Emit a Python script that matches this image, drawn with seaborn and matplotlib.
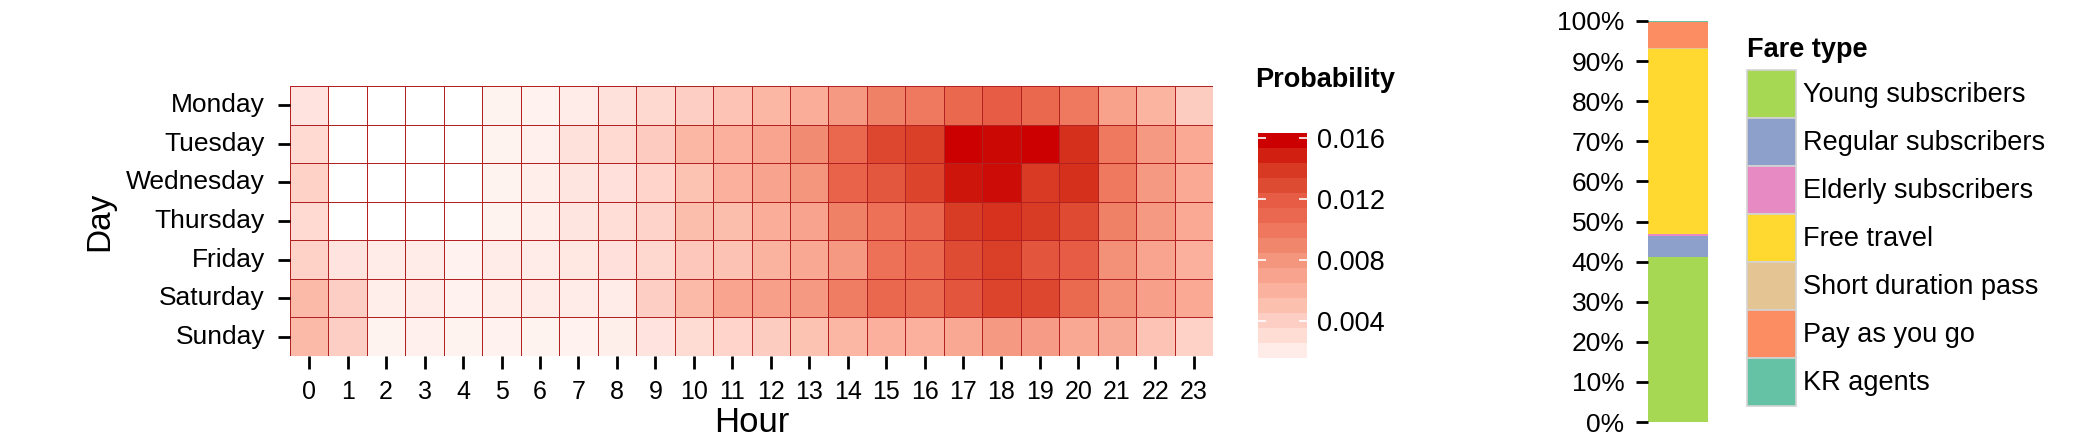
import numpy as np
import pandas as pd
import matplotlib
matplotlib.use("Agg")
import matplotlib.pyplot as plt
import seaborn as sns
from matplotlib.colors import LinearSegmentedColormap, Normalize
from matplotlib.cm import ScalarMappable
from matplotlib.patches import Patch

# ---------------- data ----------------
days = ["Monday", "Tuesday", "Wednesday", "Thursday", "Friday", "Saturday", "Sunday"]
hours = list(range(24))

monday    = [0.0022, 0.0006, 0.0006, 0.0006, 0.0006, 0.0011, 0.0012, 0.0017, 0.0024, 0.0030, 0.0037, 0.0045,
             0.0055, 0.0062, 0.0077, 0.0093, 0.0098, 0.0111, 0.0121, 0.0111, 0.0098, 0.0071, 0.0057, 0.0039]
tuesday   = [0.0029, 0.0006, 0.0006, 0.0006, 0.0006, 0.0011, 0.0013, 0.0024, 0.0029, 0.0040, 0.0055, 0.0060,
             0.0068, 0.0086, 0.0111, 0.0134, 0.0138, 0.0163, 0.0160, 0.0163, 0.0146, 0.0098, 0.0077, 0.0065]
wednesday = [0.0035, 0.0006, 0.0006, 0.0006, 0.0006, 0.0011, 0.0015, 0.0021, 0.0025, 0.0033, 0.0047, 0.0060,
             0.0069, 0.0079, 0.0116, 0.0124, 0.0136, 0.0156, 0.0159, 0.0141, 0.0146, 0.0098, 0.0077, 0.0065]
thursday  = [0.0029, 0.0006, 0.0006, 0.0006, 0.0006, 0.0011, 0.0015, 0.0021, 0.0026, 0.0034, 0.0050, 0.0050,
             0.0062, 0.0069, 0.0093, 0.0104, 0.0113, 0.0140, 0.0145, 0.0140, 0.0132, 0.0093, 0.0077, 0.0065]
friday    = [0.0035, 0.0022, 0.0016, 0.0016, 0.0012, 0.0016, 0.0016, 0.0020, 0.0025, 0.0031, 0.0042, 0.0046,
             0.0058, 0.0066, 0.0077, 0.0104, 0.0111, 0.0131, 0.0138, 0.0125, 0.0121, 0.0083, 0.0068, 0.0060]
saturday  = [0.0053, 0.0037, 0.0015, 0.0016, 0.0012, 0.0015, 0.0017, 0.0017, 0.0017, 0.0037, 0.0053, 0.0068,
             0.0072, 0.0077, 0.0096, 0.0111, 0.0109, 0.0125, 0.0136, 0.0134, 0.0109, 0.0083, 0.0072, 0.0065]
sunday    = [0.0053, 0.0037, 0.0011, 0.0013, 0.0011, 0.0012, 0.0011, 0.0012, 0.0014, 0.0022, 0.0028, 0.0033,
             0.0039, 0.0047, 0.0055, 0.0060, 0.0060, 0.0066, 0.0077, 0.0075, 0.0066, 0.0064, 0.0045, 0.0035]

prob_min, prob_max = 0.0006, 0.0163
cbar_ticks = [0.004, 0.008, 0.012, 0.016]

fare_types = ["Young subscribers", "Regular subscribers", "Elderly subscribers", "Free travel",
              "Short duration pass", "Pay as you go", "KR agents"]
fare_share = [0.411, 0.054, 0.005, 0.459, 0.003, 0.066, 0.002]
fare_colors = ["#A6D854", "#8DA0CB", "#E78AC3", "#FFD92F", "#E5C494", "#FC8D62", "#66C2A5"]
pct_ticks = [i / 10 for i in range(11)]

# ---------------- style ----------------
plt.rcParams["font.family"] = ["Liberation Sans", "DejaVu Sans"]

W, H = 2089, 442
fig = plt.figure(figsize=(W / 100, H / 100), dpi=100)

def px_axes(x0, y_top, x1, y_bot):
    return fig.add_axes([x0 / W, 1 - y_bot / H, (x1 - x0) / W, (y_bot - y_top) / H])

# ---------------- heatmap ----------------
band_cols = ["#FFF3F0", "#FFE5E0", "#FED8CF", "#FDCABE", "#FCBDAB", "#FAB09C", "#F8A28C", "#F4957E",
             "#F0866C", "#EE785E", "#EA6A50", "#E86048", "#E05038", "#DA4028", "#D42C18", "#CC1008"]
nodes = [(0.0, "#FFFFFF")] + [((i + 0.5) / 16, c) for i, c in enumerate(band_cols)] + [(1.0, "#CC0000")]
cmap = LinearSegmentedColormap.from_list("prob", nodes)

heat_df = pd.DataFrame([monday, tuesday, wednesday, thursday, friday, saturday, sunday],
                       index=days, columns=hours)

ax = px_axes(290, 86, 1213, 356)
sns.heatmap(heat_df, ax=ax, cmap=cmap, vmin=prob_min, vmax=prob_max, cbar=False,
            linewidths=0.7, linecolor="#B22222")
ax.set_xlabel("Hour", fontsize=25, labelpad=2)
ax.set_ylabel("Day", fontsize=24, labelpad=8)
ax.set_xticks(np.arange(24) + 0.5)
ax.set_xticklabels([str(h) for h in hours], rotation=0)
ax.set_yticks(np.arange(7) + 0.5)
ax.set_yticklabels(days, rotation=0)
ax.tick_params(axis="x", length=9, width=2, pad=8, labelsize=18, color="black")
ax.tick_params(axis="y", length=9, width=2, pad=9, labelsize=19, color="black")
for s in ax.spines.values():
    s.set_visible(False)

# ---------------- colorbar ----------------
cax = px_axes(1258, 133, 1307, 373)
sm = ScalarMappable(norm=Normalize(prob_min, prob_max), cmap=cmap.resampled(16))
cb = fig.colorbar(sm, cax=cax, ticks=cbar_ticks)
cb.outline.set_visible(False)
cb.ax.set_yticklabels([f"{t:.3f}" for t in cbar_ticks])
cb.ax.tick_params(direction="in", color="white", length=6, width=1.2, left=True, right=True,
                  labelsize=19.5, pad=7)
fig.text(1255 / W, 1 - 80 / H, "Probability", fontsize=19.5, fontweight="bold", ha="left", va="center")

# ---------------- stacked bar ----------------
axb = px_axes(1648, 21, 1708, 422)
bottoms = np.concatenate([[0], np.cumsum(fare_share)[:-1]])
for name, val, bot, col in zip(fare_types, fare_share, bottoms, fare_colors):
    axb.bar(0, val, bottom=bot, width=1.0, color=col, linewidth=0)
axb.set_xlim(-0.5, 0.5)
axb.set_ylim(0, 1)
axb.set_yticks(pct_ticks)
axb.set_yticklabels([f"{int(round(t * 100))}%" for t in pct_ticks])
axb.set_xticks([])
axb.tick_params(axis="y", length=9, width=2, pad=8, labelsize=19)
for s in axb.spines.values():
    s.set_visible(False)

handles = [Patch(facecolor=c, edgecolor="#D3D3D3", linewidth=1.2) for c in fare_colors]
leg = fig.legend(handles, fare_types, loc="upper left", bbox_to_anchor=(1747 / W, 1 - 37 / H),
                 frameon=False, title="Fare type", fontsize=19.5,
                 title_fontproperties={"weight": "bold", "size": 19.5},
                 handlelength=1.8, handleheight=2.35, labelspacing=0.0, handletextpad=0.26,
                 borderpad=0, borderaxespad=0, alignment="left")
leg._legend_box.sep = 5

fig.savefig("out.png", dpi=100)
